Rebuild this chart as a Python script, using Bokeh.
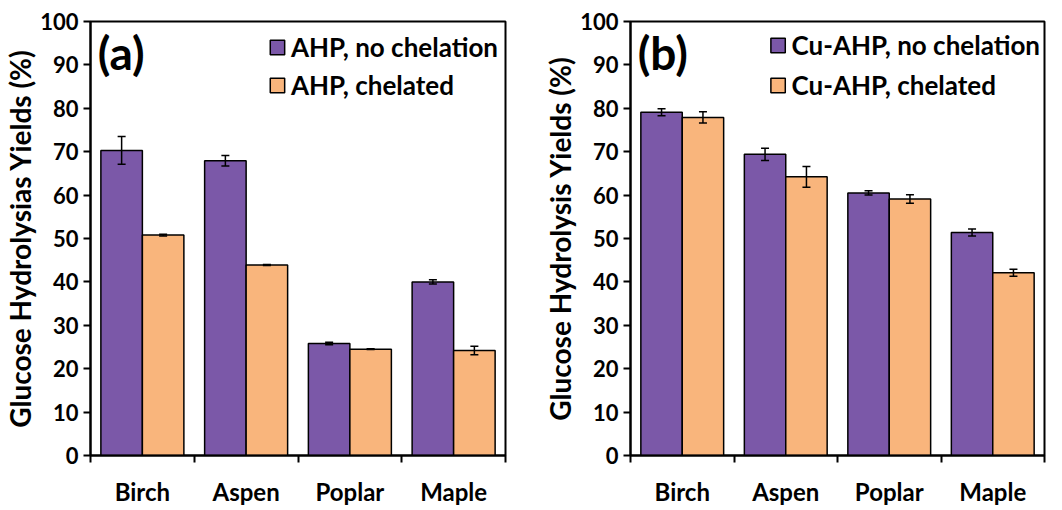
from bokeh.plotting import figure
from bokeh.models import (ColumnDataSource, Whisker, TeeHead, Legend, LegendItem,
                          Label, FixedTicker, Range1d)
from bokeh.layouts import row
from bokeh.embed import file_html
from bokeh.resources import INLINE

categories = ["Birch", "Aspen", "Poplar", "Maple"]

a_nochel = [70.3, 67.9, 25.8, 40.0]
a_nochel_err = [3.2, 1.2, 0.3, 0.5]
a_chel = [50.8, 43.9, 24.5, 24.2]
a_chel_err = [0.2, 0.1, 0.1, 1.0]

b_nochel = [79.1, 69.4, 60.5, 51.4]
b_nochel_err = [0.8, 1.4, 0.5, 0.8]
b_chel = [77.9, 64.2, 59.1, 42.1]
b_chel_err = [1.3, 2.4, 1.0, 0.8]

yticks = list(range(0, 101, 10))

PURPLE = "#7b58a8"
ORANGE = "#f9b57c"
FONT = "Lato"


def panel(width, mright, ylabel, tag, v1, e1, v2, e2, name1, name2,
          legend_margin, legend_row, legend_spacing):
    xs = [i + 1 for i in range(len(categories))]
    bounds = [x - 0.5 for x in xs] + [xs[-1] + 0.5]
    p = figure(width=width, height=508, x_range=Range1d(0.5, len(xs) + 0.5),
               y_range=Range1d(0, 100), output_backend="svg", toolbar_location=None,
               min_border_left=84, min_border_right=mright,
               min_border_top=21, min_border_bottom=40)
    p.xgrid.visible = False
    p.ygrid.visible = False
    p.outline_line_color = "black"
    p.outline_line_width = 2
    p.background_fill_color = "white"
    p.border_fill_color = "white"

    s1 = ColumnDataSource(dict(x=[x - 0.2 for x in xs], top=v1,
                               up=[a + b for a, b in zip(v1, e1)],
                               lo=[a - b for a, b in zip(v1, e1)]))
    s2 = ColumnDataSource(dict(x=[x + 0.2 for x in xs], top=v2,
                               up=[a + b for a, b in zip(v2, e2)],
                               lo=[a - b for a, b in zip(v2, e2)]))
    r1 = p.vbar(x="x", top="top", width=0.4, source=s1, fill_color=PURPLE,
                line_color="black", line_width=1.5)
    r2 = p.vbar(x="x", top="top", width=0.4, source=s2, fill_color=ORANGE,
                line_color="black", line_width=1.5)
    for s in (s1, s2):
        w = Whisker(base="x", upper="up", lower="lo", source=s, level="overlay",
                    line_color="black", line_width=1.5,
                    upper_head=TeeHead(size=8, line_color="black", line_width=1.5),
                    lower_head=TeeHead(size=8, line_color="black", line_width=1.5))
        p.add_layout(w)

    ya = p.yaxis[0]
    ya.ticker = FixedTicker(ticks=yticks, minor_ticks=[])
    ya.axis_line_width = 2
    ya.major_tick_line_width = 2
    ya.major_tick_out = 7
    ya.major_tick_in = 0
    ya.major_label_text_font = FONT
    ya.major_label_text_font_style = "bold"
    ya.major_label_text_font_size = "22px"
    ya.major_label_text_color = "black"
    ya.major_label_standoff = 5
    ya.axis_label = ylabel
    ya.axis_label_text_font = FONT
    ya.axis_label_text_font_style = "bold"
    ya.axis_label_text_font_size = "28px"
    ya.axis_label_text_color = "black"
    ya.axis_label_standoff = 0

    xa = p.xaxis[0]
    xa.ticker = FixedTicker(ticks=xs, minor_ticks=bounds)
    xa.major_label_overrides = {x: c for x, c in zip(xs, categories)}
    xa.axis_line_width = 2
    xa.major_tick_line_color = None
    xa.major_tick_out = 0
    xa.major_tick_in = 0
    xa.minor_tick_line_color = "black"
    xa.minor_tick_line_width = 2
    xa.minor_tick_out = 7
    xa.minor_tick_in = 0
    xa.major_label_text_font = FONT
    xa.major_label_text_font_style = "bold"
    xa.major_label_text_font_size = "24px"
    xa.major_label_text_color = "black"
    xa.major_label_standoff = 14

    legend = Legend(items=[LegendItem(label=name1, renderers=[r1]),
                           LegendItem(label=name2, renderers=[r2])],
                    location="top_right", border_line_color=None,
                    background_fill_alpha=0,
                    label_text_font=FONT, label_text_font_style="bold",
                    label_text_font_size="26px", label_text_color="black",
                    glyph_width=18, glyph_height=18, label_standoff=5,
                    label_height=legend_row, spacing=legend_spacing, padding=0,
                    margin=legend_margin)
    p.add_layout(legend)

    p.add_layout(Label(x=0.57, y=99.3, text=tag, text_font=FONT,
                       text_font_style="bold", text_font_size="46px",
                       text_baseline="top", text_color="black"))
    return p


p1 = panel(540, 35, "Glucose Hydrolysias Yields (%)", "(a)",
           a_nochel, a_nochel_err, a_chel, a_chel_err,
           "AHP, no chelation", "AHP, chelated", 7, 38, -5)
p2 = panel(506, 2, "Glucose Hydrolysis Yields (%)", "(b)",
           b_nochel, b_nochel_err, b_chel, b_chel_err,
           "Cu-AHP, no chelation", "Cu-AHP, chelated", 4, 40, -3)

layout = row(p1, p2)
open("out.html", "w").write(file_html(layout, INLINE))
